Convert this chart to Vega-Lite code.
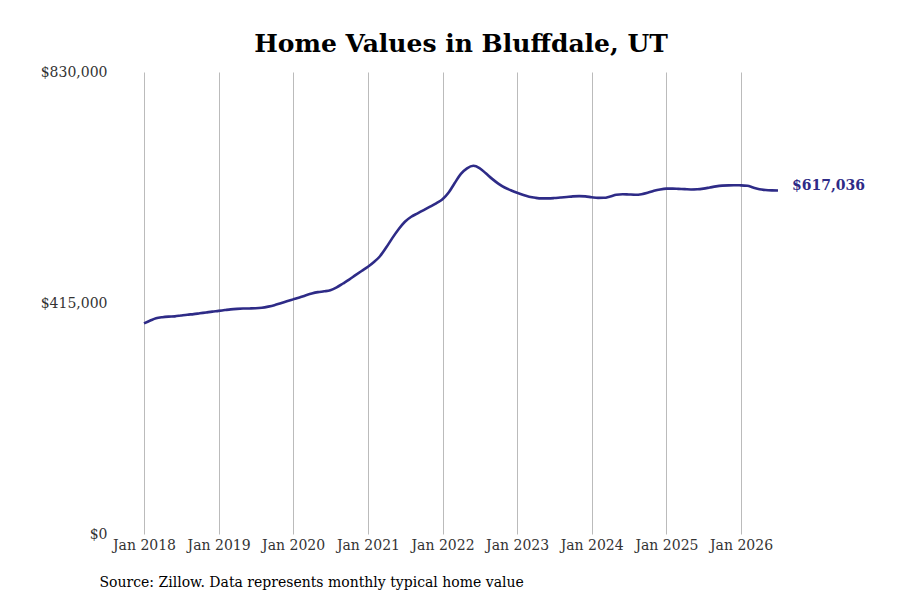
{
  "$schema": "https://vega.github.io/schema/vega-lite/v6.json",
  "description": "Home values in Bluffdale, UT",
  "autosize": {"type": "none"},
  "padding": {"left": 144, "top": 72, "right": 122, "bottom": 66},
  "width": 634,
  "height": 462,
  "background": "white",
  "title": {
    "text": "Home Values in Bluffdale, UT",
    "font": "DejaVu Serif",
    "fontWeight": "bold",
    "fontSize": 25,
    "color": "black",
    "anchor": "middle",
    "frame": "group",
    "offset": 8
  },
  "config": {
    "view": {"stroke": null},
    "font": "DejaVu Serif"
  },
  "data": {
    "values": [
      {"date": "2018-01-01", "value": 378500},
      {"date": "2018-02-01", "value": 383500},
      {"date": "2018-03-01", "value": 387500},
      {"date": "2018-04-01", "value": 389500},
      {"date": "2018-05-01", "value": 390500},
      {"date": "2018-06-01", "value": 391000},
      {"date": "2018-07-01", "value": 392500},
      {"date": "2018-08-01", "value": 394000},
      {"date": "2018-09-01", "value": 395000},
      {"date": "2018-10-01", "value": 396500},
      {"date": "2018-11-01", "value": 398000},
      {"date": "2018-12-01", "value": 399500},
      {"date": "2019-01-01", "value": 400800},
      {"date": "2019-02-01", "value": 402300},
      {"date": "2019-03-01", "value": 403600},
      {"date": "2019-04-01", "value": 404500},
      {"date": "2019-05-01", "value": 405000},
      {"date": "2019-06-01", "value": 405200},
      {"date": "2019-07-01", "value": 405500},
      {"date": "2019-08-01", "value": 406500},
      {"date": "2019-09-01", "value": 408500},
      {"date": "2019-10-01", "value": 411000},
      {"date": "2019-11-01", "value": 414500},
      {"date": "2019-12-01", "value": 418000},
      {"date": "2020-01-01", "value": 421500},
      {"date": "2020-02-01", "value": 425000},
      {"date": "2020-03-01", "value": 428500},
      {"date": "2020-04-01", "value": 432000},
      {"date": "2020-05-01", "value": 434500},
      {"date": "2020-06-01", "value": 436000},
      {"date": "2020-07-01", "value": 438000},
      {"date": "2020-08-01", "value": 443000},
      {"date": "2020-09-01", "value": 450000},
      {"date": "2020-10-01", "value": 457000},
      {"date": "2020-11-01", "value": 465000},
      {"date": "2020-12-01", "value": 472500},
      {"date": "2021-01-01", "value": 480000},
      {"date": "2021-02-01", "value": 489000},
      {"date": "2021-03-01", "value": 499000},
      {"date": "2021-04-01", "value": 515000},
      {"date": "2021-05-01", "value": 532000},
      {"date": "2021-06-01", "value": 548000},
      {"date": "2021-07-01", "value": 561000},
      {"date": "2021-08-01", "value": 570000},
      {"date": "2021-09-01", "value": 576000},
      {"date": "2021-10-01", "value": 582000},
      {"date": "2021-11-01", "value": 588000},
      {"date": "2021-12-01", "value": 594000},
      {"date": "2022-01-01", "value": 601300},
      {"date": "2022-02-01", "value": 614000},
      {"date": "2022-03-01", "value": 630000},
      {"date": "2022-04-01", "value": 647000},
      {"date": "2022-05-01", "value": 657000},
      {"date": "2022-06-01", "value": 661500},
      {"date": "2022-07-01", "value": 657500},
      {"date": "2022-08-01", "value": 648000},
      {"date": "2022-09-01", "value": 638000},
      {"date": "2022-10-01", "value": 629500},
      {"date": "2022-11-01", "value": 622500},
      {"date": "2022-12-01", "value": 617500},
      {"date": "2023-01-01", "value": 613000},
      {"date": "2023-02-01", "value": 609000},
      {"date": "2023-03-01", "value": 606000},
      {"date": "2023-04-01", "value": 604000},
      {"date": "2023-05-01", "value": 603000},
      {"date": "2023-06-01", "value": 603000},
      {"date": "2023-07-01", "value": 603500},
      {"date": "2023-08-01", "value": 604500},
      {"date": "2023-09-01", "value": 605500},
      {"date": "2023-10-01", "value": 606500},
      {"date": "2023-11-01", "value": 607000},
      {"date": "2023-12-01", "value": 606500},
      {"date": "2024-01-01", "value": 605000},
      {"date": "2024-02-01", "value": 603800},
      {"date": "2024-03-01", "value": 604000},
      {"date": "2024-04-01", "value": 606500},
      {"date": "2024-05-01", "value": 609500},
      {"date": "2024-06-01", "value": 610500},
      {"date": "2024-07-01", "value": 610000},
      {"date": "2024-08-01", "value": 609500},
      {"date": "2024-09-01", "value": 610500},
      {"date": "2024-10-01", "value": 613000},
      {"date": "2024-11-01", "value": 616500},
      {"date": "2024-12-01", "value": 619000},
      {"date": "2025-01-01", "value": 620400},
      {"date": "2025-02-01", "value": 620500},
      {"date": "2025-03-01", "value": 620000},
      {"date": "2025-04-01", "value": 619500},
      {"date": "2025-05-01", "value": 619000},
      {"date": "2025-06-01", "value": 619300},
      {"date": "2025-07-01", "value": 620500},
      {"date": "2025-08-01", "value": 622500},
      {"date": "2025-09-01", "value": 624500},
      {"date": "2025-10-01", "value": 625800},
      {"date": "2025-11-01", "value": 626400},
      {"date": "2025-12-01", "value": 626500},
      {"date": "2026-01-01", "value": 626400},
      {"date": "2026-02-01", "value": 625500},
      {"date": "2026-03-01", "value": 622500},
      {"date": "2026-04-01", "value": 619500},
      {"date": "2026-05-01", "value": 618000},
      {"date": "2026-06-01", "value": 617300},
      {"date": "2026-07-01", "value": 617036}
    ]
  },
  "encoding": {
    "x": {
      "field": "date",
      "type": "temporal",
      "scale": {"domain": ["2018-01-01", "2026-07-01"]},
      "axis": {
        "format": "%b %Y",
        "tickCount": {"interval": "year", "step": 1},
        "grid": true,
        "gridColor": "#bbbbbb",
        "gridWidth": 1,
        "domain": false,
        "ticks": false,
        "labelAlign": "center",
        "labelOverlap": false,
        "labelFlush": false,
        "labelPadding": 4,
        "labelFont": "DejaVu Serif",
        "labelFontSize": 14,
        "labelColor": "#333333",
        "title": "Source: Zillow. Data represents monthly typical home value",
        "titleFont": "DejaVu Serif",
        "titleFontSize": 14,
        "titleFontWeight": "normal",
        "titleColor": "black",
        "titleAnchor": "start",
        "titleAlign": "left",
        "titleX": -45,
        "titleY": 48,
        "titleBaseline": "middle"
      }
    },
    "y": {
      "field": "value",
      "type": "quantitative",
      "scale": {"domain": [0, 830000]},
      "axis": {
        "values": [0, 415000, 830000],
        "format": "$,.0f",
        "grid": false,
        "domain": false,
        "ticks": false,
        "labelPadding": 37,
        "labelFont": "DejaVu Serif",
        "labelFontSize": 14,
        "labelColor": "#333333",
        "title": null
      }
    }
  },
  "layer": [
    {
      "mark": {"type": "line", "color": "#2e2b87", "strokeWidth": 2.6, "interpolate": "monotone"}
    },
    {
      "transform": [{"filter": "year(datum.date) == 2026 && month(datum.date) == 6"}],
      "mark": {"type": "text", "align": "left", "dx": 14, "dy": -5, "fontWeight": "bold", "fontSize": 14, "color": "#2e2b87", "font": "DejaVu Serif"},
      "encoding": {
        "text": {"field": "value", "type": "quantitative", "format": "$,.0f"}
      }
    }
  ]
}
